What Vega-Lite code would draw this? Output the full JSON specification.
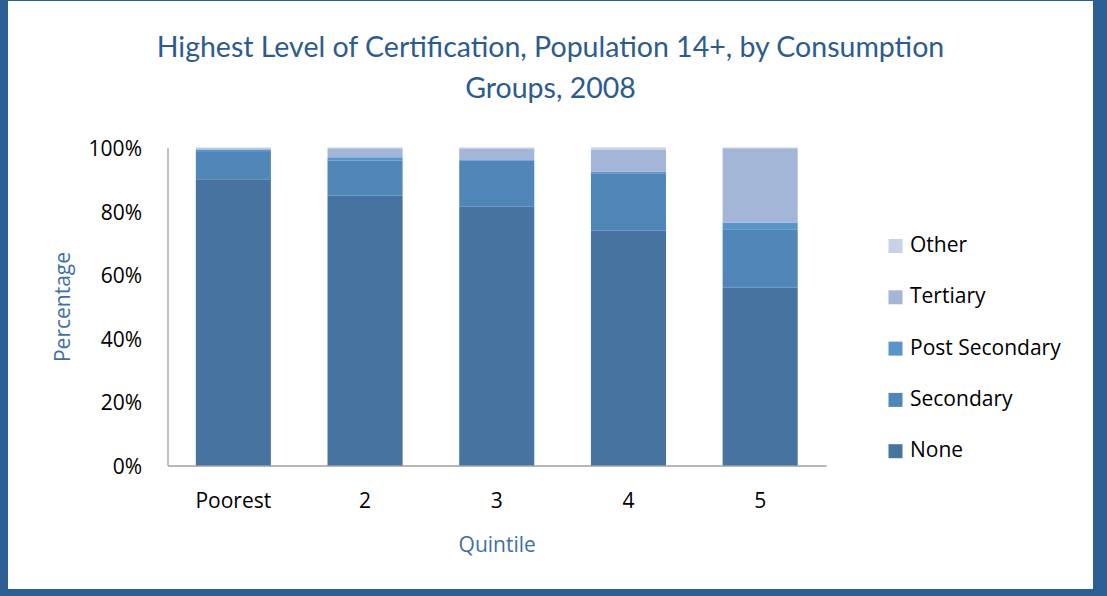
{
  "$schema": "https://vega.github.io/schema/vega-lite/v6.json",
  "autosize": "none",
  "width": 1085,
  "height": 588,
  "padding": {"left": 8, "top": 1, "right": 14, "bottom": 7},
  "background": "#2B5F93",
  "config": {
    "view": {"fill": "#FFFFFF", "stroke": null},
    "font": "Open Sans"
  },
  "title": {
    "text": ["Highest Level of Certification, Population 14+, by Consumption", "Groups, 2008"],
    "font": "Lato",
    "fontSize": 28.5,
    "fontWeight": "normal",
    "color": "#2C5B8E",
    "lineHeight": 41,
    "anchor": "middle",
    "frame": "group",
    "offset": -102
  },
  "data": {
    "values": [
      {"q": "Poorest", "level": "None", "rank": 1, "pct": 90.0},
      {"q": "Poorest", "level": "Secondary", "rank": 2, "pct": 8.6},
      {"q": "Poorest", "level": "Post Secondary", "rank": 3, "pct": 0.8},
      {"q": "Poorest", "level": "Tertiary", "rank": 4, "pct": 0.4},
      {"q": "Poorest", "level": "Other", "rank": 5, "pct": 0.2},
      {"q": "2", "level": "None", "rank": 1, "pct": 84.8},
      {"q": "2", "level": "Secondary", "rank": 2, "pct": 11.0},
      {"q": "2", "level": "Post Secondary", "rank": 3, "pct": 1.1},
      {"q": "2", "level": "Tertiary", "rank": 4, "pct": 2.9},
      {"q": "2", "level": "Other", "rank": 5, "pct": 0.2},
      {"q": "3", "level": "None", "rank": 1, "pct": 81.4},
      {"q": "3", "level": "Secondary", "rank": 2, "pct": 14.4},
      {"q": "3", "level": "Post Secondary", "rank": 3, "pct": 0.3},
      {"q": "3", "level": "Tertiary", "rank": 4, "pct": 3.4},
      {"q": "3", "level": "Other", "rank": 5, "pct": 0.5},
      {"q": "4", "level": "None", "rank": 1, "pct": 73.8},
      {"q": "4", "level": "Secondary", "rank": 2, "pct": 18.1},
      {"q": "4", "level": "Post Secondary", "rank": 3, "pct": 0.5},
      {"q": "4", "level": "Tertiary", "rank": 4, "pct": 7.0},
      {"q": "4", "level": "Other", "rank": 5, "pct": 0.6},
      {"q": "5", "level": "None", "rank": 1, "pct": 55.9},
      {"q": "5", "level": "Secondary", "rank": 2, "pct": 18.4},
      {"q": "5", "level": "Post Secondary", "rank": 3, "pct": 2.1},
      {"q": "5", "level": "Tertiary", "rank": 4, "pct": 23.4},
      {"q": "5", "level": "Other", "rank": 5, "pct": 0.2}
    ]
  },
  "mark": {"type": "bar"},
  "encoding": {
    "x": {
      "field": "q",
      "type": "nominal",
      "sort": ["Poorest", "2", "3", "4", "5"],
      "scale": {"range": [159.5, 818], "paddingInner": 0.43, "paddingOuter": 0.215},
      "axis": {
        "title": "Quintile",
        "titleFont": "Open Sans",
        "titleFontSize": 21,
        "titleFontWeight": "normal",
        "titleColor": "#3E6FA6",
        "titlePadding": 23,
        "labelFont": "Open Sans",
        "labelFontSize": 21,
        "labelColor": "#000000",
        "labelAngle": 0,
        "labelPadding": 25,
        "ticks": false,
        "domainColor": "#A0A0A0",
        "domainWidth": 1.3,
        "offset": -123.5
      }
    },
    "y": {
      "field": "pct",
      "type": "quantitative",
      "stack": "zero",
      "scale": {"domain": [0, 100], "nice": false, "range": [464.5, 146.5]},
      "axis": {
        "title": "Percentage",
        "titleFont": "Open Sans",
        "titleFontSize": 21,
        "titleFontWeight": "normal",
        "titleColor": "#3E6FA6",
        "titlePadding": 15,
        "values": [0, 20, 40, 60, 80, 100],
        "labelExpr": "datum.value + '%'",
        "labelFont": "Open Sans",
        "labelFontSize": 21,
        "labelColor": "#000000",
        "labelPadding": 26,
        "labelOffset": 2,
        "ticks": false,
        "grid": false,
        "domainColor": "#A0A0A0",
        "domainWidth": 1.3,
        "offset": -159.5
      }
    },
    "order": {"field": "rank", "type": "quantitative", "sort": "ascending"},
    "color": {
      "field": "level",
      "type": "nominal",
      "scale": {
        "domain": ["Other", "Tertiary", "Post Secondary", "Secondary", "None"],
        "range": ["#C6D2E8", "#A3B6D8", "#5A95CA", "#5186B8", "#46739F"]
      },
      "legend": {
        "title": null,
        "values": ["Other", "Tertiary", "Post Secondary", "Secondary", "None"],
        "orient": "none",
        "legendX": 877,
        "legendY": 234.5,
        "padding": 0,
        "symbolType": "square",
        "symbolSize": 196,
        "symbolStrokeWidth": 0,
        "labelFont": "Open Sans",
        "labelFontSize": 21,
        "labelColor": "#000000",
        "labelOffset": 4,
        "rowPadding": 29.3
      }
    }
  }
}
